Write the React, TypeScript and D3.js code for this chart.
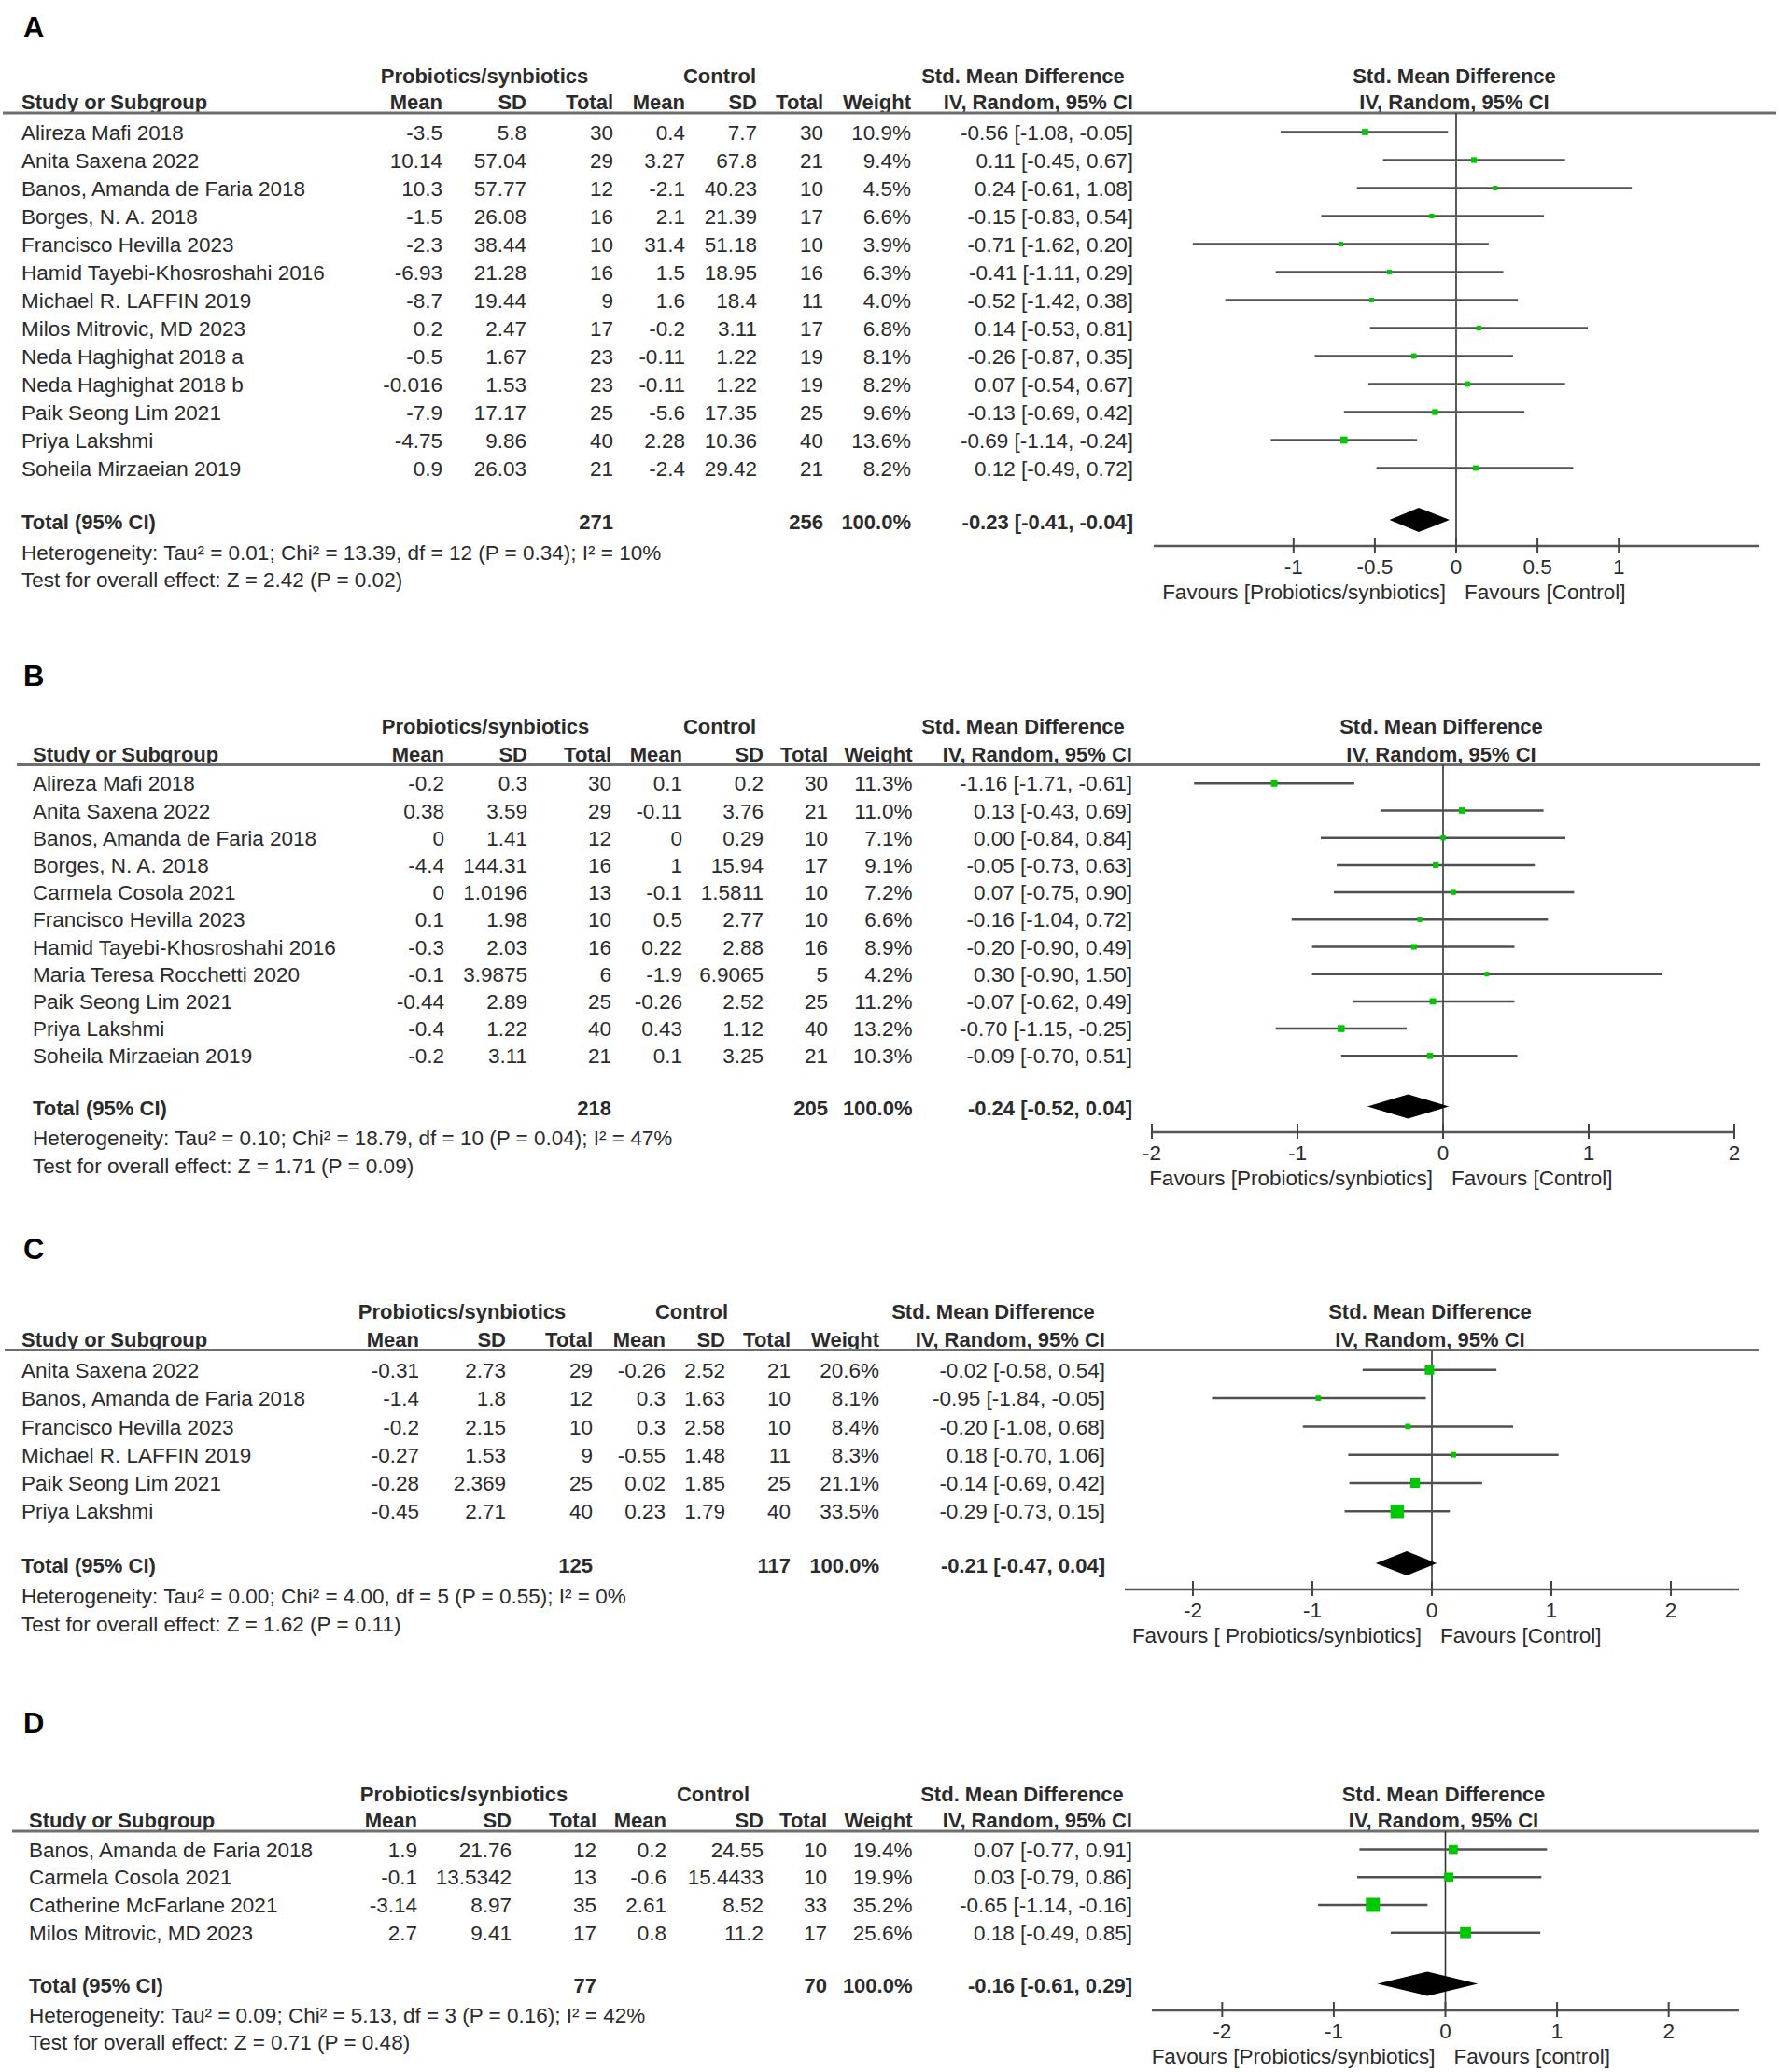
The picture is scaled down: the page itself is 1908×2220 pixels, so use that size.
import React from "react";
import * as d3 from "d3";

const FONT = '"Liberation Sans", Arial, Helvetica, sans-serif';
const TEXT = "#2b2b2b";
const GREEN = "#00c800";

// ---------------- Panel A ----------------
const namesA = [
  "Alireza Mafi 2018", "Anita Saxena 2022", "Banos, Amanda de Faria 2018", "Borges, N. A. 2018",
  "Francisco Hevilla 2023", "Hamid Tayebi-Khosroshahi 2016", "Michael R. LAFFIN 2019",
  "Milos Mitrovic, MD 2023", "Neda Haghighat 2018 a", "Neda Haghighat 2018 b",
  "Paik Seong Lim 2021", "Priya Lakshmi", "Soheila Mirzaeian 2019",
];
const expMeanA = [-3.5, 10.14, 10.3, -1.5, -2.3, -6.93, -8.7, 0.2, -0.5, -0.016, -7.9, -4.75, 0.9];
const expSdA = [5.8, 57.04, 57.77, 26.08, 38.44, 21.28, 19.44, 2.47, 1.67, 1.53, 17.17, 9.86, 26.03];
const expNA = [30, 29, 12, 16, 10, 16, 9, 17, 23, 23, 25, 40, 21];
const ctlMeanA = [0.4, 3.27, -2.1, 2.1, 31.4, 1.5, 1.6, -0.2, -0.11, -0.11, -5.6, 2.28, -2.4];
const ctlSdA = [7.7, 67.8, 40.23, 21.39, 51.18, 18.95, 18.4, 3.11, 1.22, 1.22, 17.35, 10.36, 29.42];
const ctlNA = [30, 21, 10, 17, 10, 16, 11, 17, 19, 19, 25, 40, 21];
const weightA = [10.9, 9.4, 4.5, 6.6, 3.9, 6.3, 4.0, 6.8, 8.1, 8.2, 9.6, 13.6, 8.2];
const smdA = [-0.56, 0.11, 0.24, -0.15, -0.71, -0.41, -0.52, 0.14, -0.26, 0.07, -0.13, -0.69, 0.12];
const loA = [-1.08, -0.45, -0.61, -0.83, -1.62, -1.11, -1.42, -0.53, -0.87, -0.54, -0.69, -1.14, -0.49];
const hiA = [-0.05, 0.67, 1.08, 0.54, 0.20, 0.29, 0.38, 0.81, 0.35, 0.67, 0.42, -0.24, 0.72];
const totalNA = [271, 256];
const pooledA = [-0.23, -0.41, -0.04];
const hetA = "Heterogeneity: Tau\u00b2 = 0.01; Chi\u00b2 = 13.39, df = 12 (P = 0.34); I\u00b2 = 10%";
const testA = "Test for overall effect: Z = 2.42 (P = 0.02)";
const ticksA = [-1, -0.5, 0, 0.5, 1];

// ---------------- Panel B ----------------
const namesB = [
  "Alireza Mafi 2018", "Anita Saxena 2022", "Banos, Amanda de Faria 2018", "Borges, N. A. 2018",
  "Carmela Cosola 2021", "Francisco Hevilla 2023", "Hamid Tayebi-Khosroshahi 2016",
  "Maria Teresa Rocchetti 2020", "Paik Seong Lim 2021", "Priya Lakshmi", "Soheila Mirzaeian 2019",
];
const expMeanB = [-0.2, 0.38, 0, -4.4, 0, 0.1, -0.3, -0.1, -0.44, -0.4, -0.2];
const expSdB = [0.3, 3.59, 1.41, 144.31, 1.0196, 1.98, 2.03, 3.9875, 2.89, 1.22, 3.11];
const expNB = [30, 29, 12, 16, 13, 10, 16, 6, 25, 40, 21];
const ctlMeanB = [0.1, -0.11, 0, 1, -0.1, 0.5, 0.22, -1.9, -0.26, 0.43, 0.1];
const ctlSdB = [0.2, 3.76, 0.29, 15.94, 1.5811, 2.77, 2.88, 6.9065, 2.52, 1.12, 3.25];
const ctlNB = [30, 21, 10, 17, 10, 10, 16, 5, 25, 40, 21];
const weightB = [11.3, 11.0, 7.1, 9.1, 7.2, 6.6, 8.9, 4.2, 11.2, 13.2, 10.3];
const smdB = [-1.16, 0.13, 0.0, -0.05, 0.07, -0.16, -0.2, 0.3, -0.07, -0.7, -0.09];
const loB = [-1.71, -0.43, -0.84, -0.73, -0.75, -1.04, -0.9, -0.9, -0.62, -1.15, -0.7];
const hiB = [-0.61, 0.69, 0.84, 0.63, 0.9, 0.72, 0.49, 1.5, 0.49, -0.25, 0.51];
const totalNB = [218, 205];
const pooledB = [-0.24, -0.52, 0.04];
const hetB = "Heterogeneity: Tau\u00b2 = 0.10; Chi\u00b2 = 18.79, df = 10 (P = 0.04); I\u00b2 = 47%";
const testB = "Test for overall effect: Z = 1.71 (P = 0.09)";
const ticksB = [-2, -1, 0, 1, 2];

// ---------------- Panel C ----------------
const namesC = [
  "Anita Saxena 2022", "Banos, Amanda de Faria 2018", "Francisco Hevilla 2023",
  "Michael R. LAFFIN 2019", "Paik Seong Lim 2021", "Priya Lakshmi",
];
const expMeanC = [-0.31, -1.4, -0.2, -0.27, -0.28, -0.45];
const expSdC = [2.73, 1.8, 2.15, 1.53, 2.369, 2.71];
const expNC = [29, 12, 10, 9, 25, 40];
const ctlMeanC = [-0.26, 0.3, 0.3, -0.55, 0.02, 0.23];
const ctlSdC = [2.52, 1.63, 2.58, 1.48, 1.85, 1.79];
const ctlNC = [21, 10, 10, 11, 25, 40];
const weightC = [20.6, 8.1, 8.4, 8.3, 21.1, 33.5];
const smdC = [-0.02, -0.95, -0.2, 0.18, -0.14, -0.29];
const loC = [-0.58, -1.84, -1.08, -0.7, -0.69, -0.73];
const hiC = [0.54, -0.05, 0.68, 1.06, 0.42, 0.15];
const totalNC = [125, 117];
const pooledC = [-0.21, -0.47, 0.04];
const hetC = "Heterogeneity: Tau\u00b2 = 0.00; Chi\u00b2 = 4.00, df = 5 (P = 0.55); I\u00b2 = 0%";
const testC = "Test for overall effect: Z = 1.62 (P = 0.11)";
const ticksC = [-2, -1, 0, 1, 2];

// ---------------- Panel D ----------------
const namesD = [
  "Banos, Amanda de Faria 2018", "Carmela Cosola 2021", "Catherine McFarlane 2021", "Milos Mitrovic, MD 2023",
];
const expMeanD = [1.9, -0.1, -3.14, 2.7];
const expSdD = [21.76, 13.5342, 8.97, 9.41];
const expND = [12, 13, 35, 17];
const ctlMeanD = [0.2, -0.6, 2.61, 0.8];
const ctlSdD = [24.55, 15.4433, 8.52, 11.2];
const ctlND = [10, 10, 33, 17];
const weightD = [19.4, 19.9, 35.2, 25.6];
const smdD = [0.07, 0.03, -0.65, 0.18];
const loD = [-0.77, -0.79, -1.14, -0.49];
const hiD = [0.91, 0.86, -0.16, 0.85];
const totalND = [77, 70];
const pooledD = [-0.16, -0.61, 0.29];
const hetD = "Heterogeneity: Tau\u00b2 = 0.09; Chi\u00b2 = 5.13, df = 3 (P = 0.16); I\u00b2 = 42%";
const testD = "Test for overall effect: Z = 0.71 (P = 0.48)";
const ticksD = [-2, -1, 0, 1, 2];

// ---------------- layouts (positions only) ----------------
const layouts = [
  {
    label: "A", labelY: 40, groupY: 81, subY: 109, lineY: 121, lineX0: 3, lineX1: 1903,
    rowY0: 141.5, rowStep: 30, totalY: 559, hetY: 592, testY: 621, nameX: 23,
    cols: [474, 564, 657, 734, 811, 882, 976, 1214], expHead: 519, ctlHead: 771, smdHead: 1096,
    axisY: 585, domain: [-1.86, 1.86], range: [1236, 1884],
    favL: "Favours [Probiotics/synbiotics]", favR: "Favours [Control]",
  },
  {
    label: "B", labelY: 735, groupY: 778.5, subY: 808, lineY: 819.5, lineX0: 18, lineX1: 1886,
    rowY0: 839.3, rowStep: 29.2, totalY: 1187.5, hetY: 1219, testY: 1248.5, nameX: 35,
    cols: [476, 565, 655, 731, 818, 887, 977.5, 1213], expHead: 520, ctlHead: 771, smdHead: 1096,
    axisY: 1213, domain: [-2, 2], range: [1234, 1858],
    favL: "Favours [Probiotics/synbiotics]", favR: "Favours [Control]",
  },
  {
    label: "C", labelY: 1349, groupY: 1405.5, subY: 1435, lineY: 1446.5, lineX0: 5, lineX1: 1884,
    rowY0: 1467.8, rowStep: 30.3, totalY: 1677, hetY: 1710, testY: 1739.5, nameX: 23,
    cols: [449, 542, 635, 713, 777, 847, 942, 1184], expHead: 495, ctlHead: 741, smdHead: 1064,
    axisY: 1703, domain: [-2.57, 2.57], range: [1205, 1863],
    favL: "Favours [ Probiotics/synbiotics]", favR: "Favours [Control]",
  },
  {
    label: "D", labelY: 1857, groupY: 1922, subY: 1950.4, lineY: 1962, lineX0: 13, lineX1: 1884,
    rowY0: 1981.6, rowStep: 29.7, totalY: 2127.4, hetY: 2158.5, testY: 2188, nameX: 31,
    cols: [447, 548, 639, 714, 818, 886, 977.5, 1213], expHead: 497, ctlHead: 764, smdHead: 1095,
    axisY: 2154, domain: [-2.63, 2.63], range: [1234, 1863],
    favL: "Favours [Probiotics/synbiotics]", favR: "Favours [control]",
  },
];

const panels = [
  { names: namesA, em: expMeanA, es: expSdA, en: expNA, cm: ctlMeanA, cs: ctlSdA, cn: ctlNA, w: weightA, smd: smdA, lo: loA, hi: hiA, tot: totalNA, pooled: pooledA, het: hetA, test: testA, ticks: ticksA },
  { names: namesB, em: expMeanB, es: expSdB, en: expNB, cm: ctlMeanB, cs: ctlSdB, cn: ctlNB, w: weightB, smd: smdB, lo: loB, hi: hiB, tot: totalNB, pooled: pooledB, het: hetB, test: testB, ticks: ticksB },
  { names: namesC, em: expMeanC, es: expSdC, en: expNC, cm: ctlMeanC, cs: ctlSdC, cn: ctlNC, w: weightC, smd: smdC, lo: loC, hi: hiC, tot: totalNC, pooled: pooledC, het: hetC, test: testC, ticks: ticksC },
  { names: namesD, em: expMeanD, es: expSdD, en: expND, cm: ctlMeanD, cs: ctlSdD, cn: ctlND, w: weightD, smd: smdD, lo: loD, hi: hiD, tot: totalND, pooled: pooledD, het: hetD, test: testD, ticks: ticksD },
];

const markerSide = d3.scaleLinear().domain([0, 35.2]).range([3, 15]);
const f2 = (v: number) => v.toFixed(2);
const ciText = (m: number, l: number, h: number) => `${f2(m)} [${f2(l)}, ${f2(h)}]`;

const FS = 22.5;
const FSB = 22;

function T(props: any) {
  const { x, y, anchor = "start", bold = false, size, children } = props;
  return (
    <text
      x={x}
      y={y}
      dy="0.36em"
      textAnchor={anchor}
      fontFamily={FONT}
      fontSize={size ?? (bold ? FSB : FS)}
      fontWeight={bold ? 700 : 400}
      fill={TEXT}
    >
      {children}
    </text>
  );
}

function Panel({ d, L }: { d: any; L: any }) {
  const x = d3.scaleLinear().domain(L.domain).range(L.range);
  const zero = x(0);
  const y = (i: number) => L.rowY0 + i * L.rowStep;
  const c = L.cols;
  const [pm, pl, ph] = d.pooled;
  const dy = L.totalY - 2;
  const diamond = d3.line()([
    [x(pl), dy], [x(pm), dy - 13], [x(ph), dy], [x(pm), dy + 13],
  ] as [number, number][]) + "Z";

  return (
    <g>
      <text x={25} y={L.labelY} fontFamily={FONT} fontSize={31} fontWeight={700} fill="#000">{L.label}</text>

      {/* group headers */}
      <T x={L.expHead} y={L.groupY} anchor="middle" bold>Probiotics/synbiotics</T>
      <T x={L.ctlHead} y={L.groupY} anchor="middle" bold>Control</T>
      <T x={L.smdHead} y={L.groupY} anchor="middle" bold>Std. Mean Difference</T>
      <T x={zero - 2} y={L.groupY} anchor="middle" bold>Std. Mean Difference</T>

      {/* sub headers */}
      <T x={L.nameX} y={L.subY} bold>Study or Subgroup</T>
      <T x={c[0]} y={L.subY} anchor="end" bold>Mean</T>
      <T x={c[1]} y={L.subY} anchor="end" bold>SD</T>
      <T x={c[2]} y={L.subY} anchor="end" bold>Total</T>
      <T x={c[3]} y={L.subY} anchor="end" bold>Mean</T>
      <T x={c[4]} y={L.subY} anchor="end" bold>SD</T>
      <T x={c[5]} y={L.subY} anchor="end" bold>Total</T>
      <T x={c[6]} y={L.subY} anchor="end" bold>Weight</T>
      <T x={c[7]} y={L.subY} anchor="end" bold>IV, Random, 95% CI</T>
      <T x={zero - 2} y={L.subY} anchor="middle" bold>IV, Random, 95% CI</T>

      <line x1={L.lineX0} x2={L.lineX1} y1={L.lineY} y2={L.lineY} stroke="#6e6e6e" strokeWidth={3} />

      {/* rows */}
      {d.names.map((n: string, i: number) => (
        <g key={n + i}>
          <T x={L.nameX} y={y(i)}>{n}</T>
          <T x={c[0]} y={y(i)} anchor="end">{String(d.em[i])}</T>
          <T x={c[1]} y={y(i)} anchor="end">{String(d.es[i])}</T>
          <T x={c[2]} y={y(i)} anchor="end">{String(d.en[i])}</T>
          <T x={c[3]} y={y(i)} anchor="end">{String(d.cm[i])}</T>
          <T x={c[4]} y={y(i)} anchor="end">{String(d.cs[i])}</T>
          <T x={c[5]} y={y(i)} anchor="end">{String(d.cn[i])}</T>
          <T x={c[6]} y={y(i)} anchor="end">{d.w[i].toFixed(1) + "%"}</T>
          <T x={c[7]} y={y(i)} anchor="end">{ciText(d.smd[i], d.lo[i], d.hi[i])}</T>
        </g>
      ))}

      {/* totals */}
      <T x={L.nameX} y={L.totalY} bold>Total (95% CI)</T>
      <T x={c[2]} y={L.totalY} anchor="end" bold>{String(d.tot[0])}</T>
      <T x={c[5]} y={L.totalY} anchor="end" bold>{String(d.tot[1])}</T>
      <T x={c[6]} y={L.totalY} anchor="end" bold>100.0%</T>
      <T x={c[7]} y={L.totalY} anchor="end" bold>{ciText(pm, pl, ph)}</T>
      <T x={L.nameX} y={L.hetY}>{d.het}</T>
      <T x={L.nameX} y={L.testY}>{d.test}</T>

      {/* plot */}
      <line x1={zero} x2={zero} y1={L.lineY} y2={L.axisY} stroke="#333" strokeWidth={1.6} />
      {d.names.map((n: string, i: number) => {
        const s = Math.max(5, markerSide(d.w[i]));
        return (
          <g key={"m" + i}>
            <line x1={x(d.lo[i])} x2={x(d.hi[i])} y1={y(i)} y2={y(i)} stroke="#505050" strokeWidth={2.5} />
            <rect x={x(d.smd[i]) - s / 2} y={y(i) - s / 2} width={s} height={s} fill={GREEN} />
          </g>
        );
      })}
      <path d={diamond} fill="#000" />

      {/* axis */}
      <line x1={L.range[0]} x2={L.range[1]} y1={L.axisY} y2={L.axisY} stroke="#555" strokeWidth={2.6} />
      {d.ticks.map((t: number) => (
        <g key={"t" + t}>
          <line x1={x(t)} x2={x(t)} y1={L.axisY - 9} y2={L.axisY + 7} stroke="#444" strokeWidth={2} />
          <T x={x(t)} y={L.axisY + 22} anchor="middle">{String(t)}</T>
        </g>
      ))}
      <T x={zero - 11} y={L.axisY + 49} anchor="end">{L.favL}</T>
      <T x={zero + 9} y={L.axisY + 49}>{L.favR}</T>
    </g>
  );
}

export default function App() {
  return (
    <svg
      width={1908}
      height={2220}
      viewBox="0 0 1908 2220"
      style={{ position: "absolute", left: 0, top: 0, display: "block", background: "#fff" }}
    >
      <rect width={1908} height={2220} fill="#fff" />
      {panels.map((d, i) => (
        <Panel key={i} d={d} L={layouts[i]} />
      ))}
    </svg>
  );
}
